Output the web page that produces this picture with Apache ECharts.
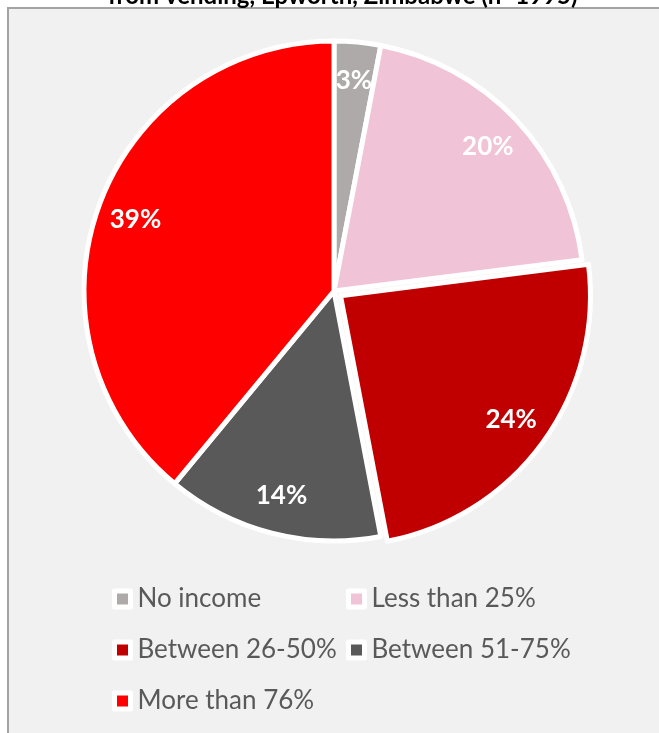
<!DOCTYPE html>
<html>
<head>
<meta charset="utf-8">
<script src="https://cdn.jsdelivr.net/npm/echarts@6/dist/echarts.min.js"></script>
<style>
  html, body { margin: 0; padding: 0; background: #ffffff; width: 659px; height: 733px; overflow: hidden; }
  #frame { position: absolute; left: 7px; top: 7px; right: -4px; bottom: -4px; background: #f1f1f1;
           border-left: 2px solid #a3a3a3; border-top: 2px solid #a3a3a3; }
  #chart { position: absolute; left: 0; top: 0; width: 659px; height: 733px; }
</style>
</head>
<body>
<div id="frame"></div>
<div id="chart"></div>
<script>
// Share of household income that comes from vending
const categories = ['No income', 'Less than 25%', 'Between 26-50%', 'Between 51-75%', 'More than 76%'];
const shares = [3, 20, 24, 14, 39];
const sliceColors = ['#aeaaaa', '#f0c3d7', '#c00000', '#595959', '#ff0000'];
const titleText = 'from vending, Epworth, Zimbabwe (n=1995)';
const pulledOut = 'Between 26-50%';
const leftColumn = ['No income', 'Between 26-50%', 'More than 76%'];
const rightColumn = ['Less than 25%', 'Between 51-75%'];

const FONT = 'Lato, "Open Sans", sans-serif';

const pieData = categories.map((name, i) => ({
  name: name,
  value: shares[i],
  selected: name === pulledOut,
  itemStyle: { color: sliceColors[i] }
}));

const labelData = categories.map((name, i) => ({
  name: name,
  value: shares[i],
  selected: name === pulledOut
}));

const legendBase = {
  orient: 'vertical',
  top: 585,
  padding: 0,
  itemWidth: 16,
  itemHeight: 16,
  itemGap: 23,
  icon: 'rect',
  selectedMode: false,
  itemStyle: { borderColor: '#ffffff', borderWidth: 5 },
  textStyle: { fontFamily: FONT, fontSize: 26, color: '#595959', lineHeight: 28, padding: [0, 0, 0, 2] }
};

const chart = echarts.init(document.getElementById('chart'), null, { renderer: 'canvas' });
chart.setOption({
  backgroundColor: 'transparent',
  animation: false,
  title: {
    text: titleText,
    left: 108,
    top: -16,
    padding: 0,
    textStyle: { fontFamily: FONT, fontWeight: 'bold', fontSize: 24, color: '#000000' }
  },
  legend: [
    Object.assign({}, legendBase, { left: 112, data: leftColumn }),
    Object.assign({}, legendBase, { left: 346, data: rightColumn })
  ],
  series: [
    {
      type: 'pie',
      center: [334, 291],
      radius: [0, 250],
      startAngle: 90,
      clockwise: true,
      selectedMode: 'single',
      selectedOffset: 8,
      avoidLabelOverlap: false,
      label: { show: false },
      labelLine: { show: false },
      itemStyle: { borderColor: '#ffffff', borderWidth: 5 },
      emphasis: { disabled: true },
      data: pieData
    },
    {
      // ring used only to place the percentage labels near the rim
      type: 'pie',
      center: [334, 291],
      radius: [166, 250],
      startAngle: 90,
      clockwise: true,
      selectedMode: 'single',
      selectedOffset: 8,
      silent: true,
      legendHoverLink: false,
      avoidLabelOverlap: false,
      itemStyle: { color: 'rgba(0,0,0,0)', borderWidth: 0 },
      label: {
        show: true,
        position: 'inside',
        formatter: '{c}%',
        fontFamily: FONT,
        fontWeight: 'bold',
        fontSize: 26,
        color: '#ffffff'
      },
      labelLine: { show: false },
      emphasis: { disabled: true },
      data: labelData
    }
  ]
});
</script>
</body>
</html>
